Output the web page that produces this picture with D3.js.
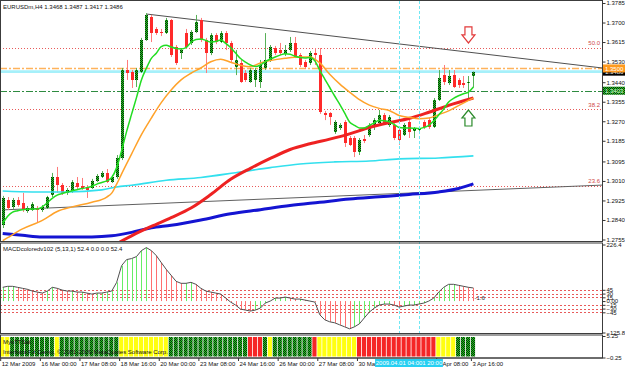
<!DOCTYPE html>
<html><head><meta charset="utf-8">
<script src="https://cdn.jsdelivr.net/npm/d3@7"></script>
<style>
html,body{margin:0;padding:0;background:#fff;}
svg{display:block;}
text{font-family:"Liberation Sans",Arial,sans-serif;font-size:6px;}
</style></head><body>
<svg id="c" width="625" height="368"></svg>
<script>
// ---------- DATA ----------
const openP = [1.2818,1.2927,1.2897,1.2927,1.2914,1.2879,1.2884,1.2892,1.2884,1.2892,
1.2949,1.3027,1.2992,1.2958,1.2962,1.3001,1.2988,1.2984,1.2979,1.3010,
1.3027,1.3045,1.3005,1.3027,1.3110,1.3493,1.3485,1.3450,1.3485,1.3624,
1.3724,1.3672,1.3659,1.3654,1.3711,1.3593,1.3567,1.3654,1.3611,1.3659,
1.3711,1.3624,1.3567,1.3646,1.3615,1.3654,1.3611,1.3506,1.3524,1.3480,
1.3441,1.3450,1.3441,1.3502,1.3537,1.3589,1.3580,1.3563,1.3580,1.3611,
1.3558,1.3528,1.3524,1.3567,1.3558,1.3306,1.3306,1.3223,1.3241,1.3267,
1.3197,1.3197,1.3136,1.3193,1.3210,1.3245,1.3262,1.3297,1.3254,1.3254,
1.3232,1.3210,1.3267,1.3228,1.3232,1.3267,1.3275,1.3245,1.3363,1.3471,
1.3437,1.3471,1.3450,1.3437,1.3437,1.3468];
const highP = [1.2945,1.2940,1.2936,1.2940,1.2958,1.2901,1.2918,1.2901,1.2905,1.2945,
1.3045,1.3071,1.3001,1.2979,1.3014,1.3027,1.3023,1.2992,1.3019,1.3040,
1.3053,1.3062,1.3036,1.3123,1.3502,1.3537,1.3493,1.3502,1.3633,1.3741,
1.3733,1.3680,1.3672,1.3720,1.3715,1.3602,1.3589,1.3672,1.3667,1.3733,
1.3720,1.3633,1.3654,1.3654,1.3663,1.3663,1.3620,1.3580,1.3537,1.3493,
1.3502,1.3502,1.3537,1.3654,1.3602,1.3598,1.3611,1.3602,1.3637,1.3637,
1.3567,1.3537,1.3576,1.3589,1.3589,1.3315,1.3310,1.3275,1.3262,1.3275,
1.3206,1.3206,1.3197,1.3210,1.3262,1.3284,1.3319,1.3306,1.3297,1.3262,
1.3241,1.3262,1.3284,1.3245,1.3249,1.3275,1.3284,1.3371,1.3493,1.3515,
1.3493,1.3493,1.3458,1.3467,1.3467,1.3487];
const lowP = [1.2805,1.2884,1.2888,1.2897,1.2875,1.2871,1.2879,1.2831,1.2875,1.2888,
1.2940,1.2958,1.2949,1.2949,1.2958,1.2971,1.2971,1.2936,1.2975,1.3005,
1.3023,1.3001,1.3001,1.3019,1.3101,1.3450,1.3415,1.3419,1.3480,1.3620,
1.3615,1.3646,1.3641,1.3650,1.3550,1.3515,1.3541,1.3585,1.3602,1.3654,
1.3615,1.3480,1.3558,1.3606,1.3611,1.3580,1.3528,1.3471,1.3437,1.3441,
1.3437,1.3419,1.3415,1.3493,1.3528,1.3558,1.3558,1.3554,1.3572,1.3545,
1.3506,1.3498,1.3515,1.3515,1.3302,1.3275,1.3254,1.3215,1.3232,1.3158,
1.3162,1.3114,1.3123,1.3175,1.3202,1.3232,1.3254,1.3254,1.3245,1.3188,
1.3167,1.3206,1.3197,1.3197,1.3223,1.3236,1.3236,1.3241,1.3358,1.3428,
1.3428,1.3415,1.3415,1.3415,1.3363,1.3417];
const closeP = [1.2936,1.2892,1.2927,1.2905,1.2884,1.2892,1.2910,1.2884,1.2897,1.2940,
1.3027,1.2992,1.2958,1.2971,1.3005,1.2984,1.2979,1.2971,1.3010,1.3032,
1.3045,1.3005,1.3027,1.3110,1.3493,1.3480,1.3450,1.3493,1.3624,1.3733,
1.3654,1.3654,1.3654,1.3711,1.3558,1.3524,1.3580,1.3593,1.3659,1.3702,
1.3624,1.3567,1.3646,1.3615,1.3654,1.3611,1.3537,1.3537,1.3441,1.3450,
1.3493,1.3493,1.3515,1.3537,1.3593,1.3567,1.3567,1.3580,1.3611,1.3550,
1.3515,1.3506,1.3567,1.3558,1.3310,1.3297,1.3289,1.3267,1.3254,1.3175,
1.3167,1.3136,1.3188,1.3184,1.3254,1.3275,1.3297,1.3262,1.3289,1.3197,
1.3188,1.3254,1.3223,1.3236,1.3241,1.3245,1.3245,1.3363,1.3458,1.3441,
1.3467,1.3419,1.3428,1.3428,1.3441,1.3486];

// fast MA (green), one value per bar
const maFast = [1.2824,1.2856,1.2874,1.2880,1.2885,1.2887,1.2888,1.2888,1.2897,1.2915,
1.2934,1.2948,1.2955,1.2962,1.2967,1.2972,1.2977,1.2981,1.2987,1.2996,
1.3003,1.3010,1.3025,1.3068,1.3142,1.3225,1.3300,1.3373,1.3450,1.3501,
1.3544,1.3566,1.3595,1.3601,1.3593,1.3587,1.3585,1.3591,1.3613,1.3626,
1.3628,1.3622,1.3615,1.3617,1.3624,1.3609,1.3591,1.3567,1.3543,1.3528,
1.3515,1.3508,1.3515,1.3530,1.3541,1.3550,1.3558,1.3564,1.3562,1.3553,
1.3548,1.3546,1.3548,1.3533,1.3492,1.3454,1.3417,1.3380,1.3345,1.3306,
1.3267,1.3252,1.3241,1.3241,1.3252,1.3263,1.3274,1.3272,1.3268,1.3256,
1.3243,1.3241,1.3241,1.3240,1.3238,1.3243,1.3252,1.3272,1.3297,1.3323,
1.3354,1.3370,1.3381,1.3390,1.3397,1.3419];
// orange MA, read at these bars
const maMidIdx = [0,1,4,8,11,14,18,21,22,23,24,26,28,30,32,34,36,38,40,42,44,46,48,50,52,54,57,60,62,64,66,68,70,72,74,76,78,80,82,84,86,88,90,92,94,95];
const maMidVal = [1.2750,1.2763,1.2801,1.2838,1.2877,1.2897,1.2917,1.2940,1.2957,1.2996,1.3041,1.3127,1.3212,1.3284,1.3351,1.3406,1.3450,1.3479,1.3502,1.3529,1.3540,1.3527,1.3514,1.3507,1.3524,1.3534,1.3544,1.3550,1.3550,1.3524,1.3475,1.3433,1.3397,1.3364,1.3340,1.3326,1.3317,1.3295,1.3287,1.3281,1.3284,1.3299,1.3315,1.3338,1.3361,1.3371];
// red thick MA
const maRedIdx = [23,24,26,30,34,38,42,46,50,54,58,62,66,70,74,78,82,86,90,95];
const maRedVal = [1.2735,1.2748,1.2771,1.2812,1.2850,1.2892,1.2951,1.3017,1.3065,1.3108,1.3147,1.3172,1.3192,1.3215,1.3243,1.3264,1.3282,1.3309,1.3339,1.3371];
// cyan MA
const maCyanIdx = [0,6,13,20,23,26,33,40,47,54,60,67,74,80,88,95];
const maCyanVal = [1.2966,1.2962,1.2962,1.2971,1.2984,1.2991,1.3013,1.3025,1.3046,1.3068,1.3084,1.3093,1.3097,1.3106,1.3110,1.3119];
// blue thick MA
const maBlueIdx = [0,4,8,13,18,22,26,30,34,40,46,52,58,64,70,76,82,88,92,95];
const maBlueVal = [1.2781,1.2773,1.2766,1.2766,1.2766,1.2771,1.2786,1.2806,1.2817,1.2840,1.2867,1.2885,1.2903,1.2917,1.2931,1.2941,1.2951,1.2962,1.2977,1.2997];

// MACD histogram values
const macd = [55,59,59,55,51,47,40,36,32,40,
55,51,44,40,40,36,36,32,28,32,
32,36,40,75,142,166,170,178,202,214,
202,182,154,127,103,79,71,71,75,67,
51,40,36,32,28,12,-4,-16,-32,-36,
-40,-36,-28,-8,0,12,12,16,12,8,
8,4,0,-4,-55,-75,-83,-87,-95,-103,
-111,-103,-91,-67,-44,-28,-16,-12,-12,-16,
-24,-20,-16,-16,-12,-8,0,12,36,55,
67,67,63,59,55,52.4];
const macdLevels = [45,30,15,-15,-30,-45];
const macdTicks = [226.4,45,30,15,0,-15,-30,-45,-125.8];

// trend state panel (1 up, 0 flat, -1 down)
const trendState = [0,0,1,1,1,1,1,1,1,1,
1,0,1,1,1,1,1,1,1,1,
1,1,1,1,0,0,0,0,0,0,
0,0,0,0,1,1,1,1,1,1,
1,1,1,1,1,1,1,1,1,1,
-1,-1,-1,1,0,1,1,1,1,1,
1,1,1,-1,0,0,0,0,0,0,
0,0,-1,-1,-1,-1,-1,-1,-1,-1,
-1,-1,-1,-1,-1,-1,-1,-1,0,0,
0,0,1,1,1,1];
const indTicks = [5.25,-0.25];

// levels and objects
const fibLevels = [1.3590,1.3322,1.2990];
const fibNames = ["50.0","38.2","23.6"];
const orangeLevel = 1.3500;
const bidLevel = 1.3486;
const greenLevel = 1.3403;
const trendUpper = [[29,1.3737],[121,1.3502]];
const trendLower = [[0,1.2884],[121,1.2992]];
const vlineIdx = [80,84];
const vlineLabels = ["2009.04.01 04:00","2009.04.01 20:00"];
const arrowDown = {i:94, price:1.3611};
const arrowUp = {i:94, price:1.3319};

const priceTicks = [1.3785,1.3700,1.3615,1.3530,1.3440,1.3355,1.3270,1.3185,1.3095,1.3010,1.2925,1.2840,1.2755];
const timeIdx = [0,8,16,24,32,40,48,56,64,72,88,95];
const timeLabels = ["12 Mar 2009","16 Mar 00:00","17 Mar 08:00","18 Mar 16:00","20 Mar 00:00","23 Mar 08:00","24 Mar 16:00","26 Mar 00:00","27 Mar 08:00","30 Mar 16:00","2 Apr 08:00","3 Apr 16:00"];

const titleText = "EURUSDm,H4  1.3468 1.3487 1.3417 1.3486";
const macdTitle = "MACDcoloredv102 (5,13,1) 52.4 0.0 0.0 52.4";
const indTitle = "MyoTTSat";
const brokerText = "InterbankFX-Demo, \u00a9 2001-2009 MetaQuotes Software Corp.";

// ---------- SCALES ----------
const svg = d3.select("#c");
const R = 602; // right edge of plot
const x = d3.scaleLinear().domain([0,95]).range([2.7,473.4]);
const yP = d3.scaleLinear().domain([1.2755,1.3785]).range([239.5,3]);
const yM = d3.scaleLinear().domain([-125.8,226.4]).range([332.5,244.5]);
const yI = d3.scaleLinear().domain([-0.25,5.25]).range([357.5,336]);

const defs = svg.append("defs");
const pat = defs.append("pattern").attr("id","hatch").attr("width",2).attr("height",2)
  .attr("patternUnits","userSpaceOnUse").attr("shape-rendering","crispEdges");
pat.append("rect").attr("width",2).attr("height",2).attr("fill","#22cc22").attr("shape-rendering","crispEdges");
pat.append("rect").attr("x",0).attr("y",0).attr("width",1).attr("height",1).attr("fill","#0a2a0a").attr("shape-rendering","crispEdges");
pat.append("rect").attr("x",1).attr("y",1).attr("width",1).attr("height",1).attr("fill","#0a2a0a").attr("shape-rendering","crispEdges");
defs.append("clipPath").attr("id","clipMain").append("rect").attr("x",1).attr("y",1).attr("width",R-1).attr("height",240);
defs.append("clipPath").attr("id","clipMacd").append("rect").attr("x",1).attr("y",244).attr("width",R-1).attr("height",89);

svg.append("rect").attr("width",625).attr("height",368).attr("fill","#fff");

const main = svg.append("g").attr("clip-path","url(#clipMain)");

// vertical dashed lines (all panels)
vlineIdx.forEach(i=>{
  svg.append("line").attr("x1",Math.round(x(i))+0.5).attr("x2",Math.round(x(i))+0.5).attr("y1",1).attr("y2",334)
    .attr("stroke","#6ee8f4").attr("stroke-dasharray","3,2").attr("stroke-width",1);
});

// horizontal levels
fibLevels.forEach((f,k)=>{
  main.append("line").attr("x1",0).attr("x2",R).attr("y1",Math.round(yP(f))+0.5).attr("y2",Math.round(yP(f))+0.5)
    .attr("stroke","#e85a5a").attr("stroke-dasharray","1,2");
  main.append("text").attr("x",600).attr("y",yP(f)-2.5).attr("text-anchor","end").attr("fill","#d04848").text(fibNames[k]);
});
main.append("line").attr("x1",0).attr("x2",R).attr("y1",yP(bidLevel)).attr("y2",yP(bidLevel))
  .attr("stroke","#a6f0fa").attr("stroke-width",2.6);
main.append("line").attr("x1",0).attr("x2",R).attr("y1",yP(orangeLevel)).attr("y2",yP(orangeLevel))
  .attr("stroke","#ffb35c").attr("stroke-width",1.4).attr("stroke-dasharray","7,2,2,2");
main.append("line").attr("x1",0).attr("x2",R).attr("y1",Math.round(yP(greenLevel))+0.5).attr("y2",Math.round(yP(greenLevel))+0.5)
  .attr("stroke","#2e8b40").attr("stroke-width",1).attr("stroke-dasharray","7,2,2,2");

// trend lines
const tl = d3.line().x(d=>x(d[0])).y(d=>yP(d[1]));
main.append("path").attr("d",tl(trendLower)).attr("stroke","#606060").attr("fill","none").attr("stroke-width",1);
main.append("path").attr("d",tl(trendUpper)).attr("stroke","#505050").attr("fill","none").attr("stroke-width",1);

// candles
const bars = d3.range(openP.length);
bars.forEach(i=>{
  const up = closeP[i] >= openP[i];
  const cx = Math.round(x(i))+0.5;
  const hi = Math.max(highP[i],openP[i],closeP[i]), lo = Math.min(lowP[i],openP[i],closeP[i]);
  main.append("line").attr("x1",cx).attr("x2",cx).attr("y1",yP(hi)).attr("y2",yP(lo))
    .attr("stroke", up ? "#58b058" : "#ff7a7a").attr("stroke-width",1);
  const top = Math.round(yP(Math.max(openP[i],closeP[i]))), bot = Math.round(yP(Math.min(openP[i],closeP[i])));
  main.append("rect").attr("x",cx-1.5).attr("y",top).attr("width",3).attr("height",Math.max(1,bot-top))
    .attr("shape-rendering","crispEdges")
    .attr("fill", up ? "url(#hatch)" : "#ff2a2a");
});

// moving averages
const lineIdx = (idx,val)=> d3.line().x((d,k)=>x(idx[k])).y(d=>yP(d)).curve(d3.curveMonotoneX)(val);
main.append("path").attr("d",lineIdx(maBlueIdx,maBlueVal)).attr("stroke","#1414d2").attr("stroke-width",3).attr("fill","none");
main.append("path").attr("d",lineIdx(maCyanIdx,maCyanVal)).attr("stroke","#33e0ee").attr("stroke-width",1.6).attr("fill","none");
main.append("path").attr("d",lineIdx(maRedIdx,maRedVal)).attr("stroke","#ee2222").attr("stroke-width",3).attr("fill","none");
main.append("path").attr("d",lineIdx(maMidIdx,maMidVal)).attr("stroke","#ffa22a").attr("stroke-width",1.5).attr("fill","none");
main.append("path").attr("d",lineIdx(bars,maFast)).attr("stroke","#22dd22").attr("stroke-width",1.5).attr("fill","none");

// arrows
function arrow(a, dir, color){
  const tx = x(a.i), ty = yP(a.price), s = dir; // s=1 down, -1 up
  const pts = [[tx-3.5,ty-16*s],[tx+3.5,ty-16*s],[tx+3.5,ty-8*s],[tx+6.5,ty-8*s],[tx,ty],[tx-6.5,ty-8*s],[tx-3.5,ty-8*s]];
  main.append("polygon").attr("points",pts.map(p=>p.join(",")).join(" "))
    .attr("fill","#fff").attr("stroke",color).attr("stroke-width",1.2);
}
arrow(arrowDown,1,"#e23a3a");
arrow(arrowUp,-1,"#2a8a2a");

// ---------- MACD ----------
const mg = svg.append("g").attr("clip-path","url(#clipMacd)");
macdLevels.forEach(l=>{
  mg.append("line").attr("x1",0).attr("x2",R).attr("y1",Math.round(yM(l))+0.5).attr("y2",Math.round(yM(l))+0.5)
    .attr("stroke","#e85a5a").attr("stroke-dasharray","2,2");
});
macd.forEach((v,i)=>{
  const rising = i===0 ? true : v >= macd[i-1];
  const cx = Math.round(x(i))+0.5;
  mg.append("line").attr("x1",cx).attr("x2",cx).attr("y1",yM(0)).attr("y2",yM(v))
    .attr("stroke", rising ? "#66ee66" : "#ff7070").attr("stroke-width",1);
});
mg.append("path").attr("d",d3.line().x((d,i)=>x(i)).y(d=>yM(d))(macd))
  .attr("stroke","#505050").attr("fill","none").attr("stroke-width",1);
svg.append("text").attr("x",x(95)+1).attr("y",yM(0)-1).attr("fill","#222").text("-1.6");

// ---------- trend state panel ----------
const step = x(1)-x(0);
trendState.forEach((s,i)=>{
  svg.append("rect").attr("x",x(i)-step/2).attr("y",yI(5)).attr("width",step-0.8).attr("height",yI(0)-yI(5))
    .attr("fill", s>0 ? "url(#hatch)" : (s<0 ? "#f52626" : "#ffff10"));
});

// ---------- frames ----------
const frame = (y0,y1)=> svg.append("rect").attr("x",0.5).attr("y",y0).attr("width",R).attr("height",y1-y0)
  .attr("fill","none").attr("stroke","#3c3c3c").attr("stroke-width",1);
frame(0.5,241.5); frame(243,333.5); frame(335,358);

// ---------- axes ----------
const axP = svg.append("g").attr("transform",`translate(${R+0.5},0)`)
  .call(d3.axisRight(yP).tickValues(priceTicks).tickSize(3).tickPadding(1).tickFormat(d3.format(".4f")));
const axM = svg.append("g").attr("transform",`translate(${R+0.5},0)`)
  .call(d3.axisRight(yM).tickValues(macdTicks).tickSize(3).tickPadding(1)
    .tickFormat(d=> d===0 ? "0.00" : (Math.abs(d)>100 ? d3.format(".1f")(d) : d3.format("d")(d))));
const axI = svg.append("g").attr("transform",`translate(${R+0.5},0)`)
  .call(d3.axisRight(yI).tickValues(indTicks).tickSize(3).tickPadding(1).tickFormat(d3.format(".2f")));
[axP,axM,axI].forEach(a=>{
  a.select(".domain").remove();
  a.selectAll("text").attr("font-size",6).attr("font-family","Liberation Sans, Arial, sans-serif").attr("fill","#111");
  a.selectAll("line").attr("stroke","#333");
});
axM.selectAll("text").attr("font-size",5);

// special price labels on right axis
function priceTag(p, bg, fg, txt){
  const g = svg.append("g");
  g.append("rect").attr("x",R+1).attr("y",yP(p)-4).attr("width",23).attr("height",8).attr("fill",bg);
  g.append("text").attr("x",R+3).attr("y",yP(p)+2.2).attr("fill",fg).text(txt);
}
priceTag(bidLevel,"#000","#fff",d3.format(".4f")(bidLevel));
priceTag(orangeLevel,"#ff9a1e","#fff",d3.format(".4f")(orangeLevel));
priceTag(greenLevel,"url(#hatch)","#d8ffd8",d3.format(".4f")(greenLevel));

// bottom time axis
const axT = svg.append("g").attr("transform","translate(-2.5,358)")
  .call(d3.axisBottom(x).tickValues(timeIdx).tickSize(3).tickPadding(1).tickFormat((d,k)=>timeLabels[k]));
axT.select(".domain").remove();
axT.selectAll("line").attr("stroke","#333");
axT.selectAll("text").attr("text-anchor","start").attr("dx",1).attr("dy",3.6)
  .attr("font-size",6).attr("font-family","Liberation Sans, Arial, sans-serif").attr("fill","#111");
svg.append("line").attr("x1",0).attr("x2",R+0.5).attr("y1",358).attr("y2",358).attr("stroke","#3c3c3c");

// highlighted vertical-line time labels (second drawn first)
[1,0].forEach(k=>{
  const cx = x(vlineIdx[k]);
  svg.append("rect").attr("x",cx-24).attr("y",359).attr("width",48).attr("height",8).attr("fill","#26d0f2");
  svg.append("text").attr("x",cx).attr("y",365.3).attr("text-anchor","middle").attr("fill","#fff").text(vlineLabels[k]);
});

// titles
svg.append("text").attr("x",3).attr("y",8.5).attr("fill","#111").text(titleText);
svg.append("text").attr("x",3).attr("y",251).attr("fill","#111").text(macdTitle);
svg.append("text").attr("x",3).attr("y",344).attr("fill","#111").text(indTitle);
svg.append("text").attr("x",3).attr("y",354).attr("fill","#111").text(brokerText);
</script>
</body></html>
